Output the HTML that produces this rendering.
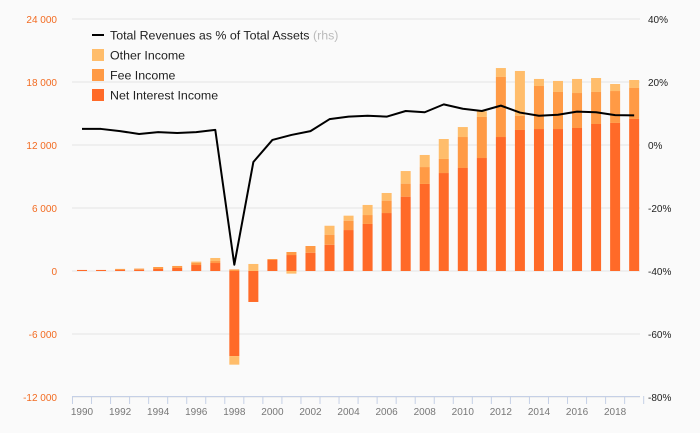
<!DOCTYPE html>
<html><head><meta charset="utf-8"><style>
body{margin:0;background:#fafafa;}
svg{display:block;font-family:"Liberation Sans",sans-serif;}
</style></head><body>
<svg id="chart" width="700" height="433"></svg>
<script>
const years=[1990,1991,1992,1993,1994,1995,1996,1997,1998,1999,2000,2001,2002,2003,2004,2005,2006,2007,2008,2009,2010,2011,2012,2013,2014,2015,2016,2017,2018,2019];
const netInterest=[100,100,100,120,190,290,570,760,-8100,-2950,1050,1520,1740,2500,3900,4480,5520,7080,8290,9330,9810,10760,12760,13430,13520,13520,13620,14000,14100,14480];
const feeIncome=[0,0,100,110,190,190,220,190,150,0,90,290,640,960,890,850,1180,1240,1610,1340,2950,3910,5720,1360,4100,3530,3330,3050,3040,2950];
const otherIncome=[0,0,0,0,0,0,100,290,-820,670,0,-250,0,850,480,960,730,1200,1150,1900,950,540,850,4260,670,1050,1340,1330,670,760];
const ratio=[5.1,5.1,4.4,3.5,4.1,3.8,4.1,4.8,-38,-5.4,1.6,3.2,4.4,8.2,9.0,9.3,9.0,10.8,10.4,12.9,11.5,10.8,12.5,10.3,9.3,9.6,10.6,10.4,9.5,9.4];
const leftTicks=[-12000,-6000,0,6000,12000,18000,24000];
const rightTicks=[-80,-60,-40,-20,0,20,40];
const xLabels=[1990,1992,1994,1996,1998,2000,2002,2004,2006,2008,2010,2012,2014,2016,2018];

const NS="http://www.w3.org/2000/svg";
const svg=document.getElementById('chart');
function mk(t,a,p){const e=document.createElementNS(NS,t);for(const k in a)e.setAttribute(k,a[k]);(p||svg).appendChild(e);return e;}
const yL=v=>271-v/6000*63;
const yR=v=>145-v/20*63;
const xS=yr=>82+(yr-1990)*19.04;
const C={nii:'#ff6a28',fee:'#ff9a45',oth:'#ffbd6b'};

const grid=mk('g',{});


leftTicks.forEach(v=>{
  const l=mk('line',{x1:72,x2:640,y1:yL(v),y2:yL(v),stroke:'#e4e4e4','stroke-width':1},grid);
  
  
  const t=mk('text',{x:57,y:yL(v)+4,'text-anchor':'end','font-size':10,fill:'#f26b21'});
  t.textContent=v.toLocaleString('en-US').replace(/,/g,' ');
  
  
});
rightTicks.forEach(v=>{
  const t=mk('text',{x:648,y:yR(v)+4,'text-anchor':'start','font-size':10,fill:'#222'});
  t.textContent=v+'%';
  
  
});

const bars=mk('g',{});


years.forEach((yr,i)=>{
  let pos=0,neg=0;
  [[netInterest[i],C.nii,'net-interest'],[feeIncome[i],C.fee,'fee-income'],[otherIncome[i],C.oth,'other-income']].forEach(([v,c,n])=>{
    if(!v)return;
    let a,b;
    if(v>0){a=pos;b=pos+v;pos=b;}else{a=neg;b=neg+v;neg=b;}
    const y1=yL(Math.max(a,b)),y2=yL(Math.min(a,b));
    const r=mk('rect',{x:xS(yr)-5,y:y1,width:10,height:Math.max(0.5,y2-y1),fill:c},bars);
    
    
  });
});

const ax=mk('line',{x1:72,x2:640,y1:396.5,y2:396.5,stroke:'#c5d0e6','stroke-width':1});


for(let yr=1989.5;yr<=2019.6;yr+=1){
  const tk=mk('line',{x1:xS(yr),x2:xS(yr),y1:396,y2:404,stroke:'#c5d0e6','stroke-width':1});
  
  
}
xLabels.forEach(yr=>{
  const t=mk('text',{x:xS(yr),y:415,'text-anchor':'middle','font-size':10,fill:'#777'});
  t.textContent=yr;
  
  
});

const line=mk('polyline',{points:years.map((yr,i)=>xS(yr)+','+yR(ratio[i])).join(' '),fill:'none',stroke:'#000','stroke-width':2,'stroke-linejoin':'round'});



const lg=mk('g',{});


const ll=mk('line',{x1:92,x2:104,y1:35,y2:35,stroke:'#000','stroke-width':2},lg);


const t0=mk('text',{x:110,y:39.5,'font-size':12.4,fill:'#222'},lg);
t0.innerHTML='Total Revenues as % of Total Assets <tspan fill="#bbb">(rhs)</tspan>';


[['Other Income',C.oth,55],['Fee Income',C.fee,75],['Net Interest Income',C.nii,95]].forEach(([n,c,y])=>{
  const r=mk('rect',{x:92,y:y-6,width:12,height:12,fill:c},lg);
  
  
  const t=mk('text',{x:110,y:y+4.5,'font-size':12.4,fill:'#222'},lg);
  t.textContent=n;
  
  
});
</script>
</body></html>
